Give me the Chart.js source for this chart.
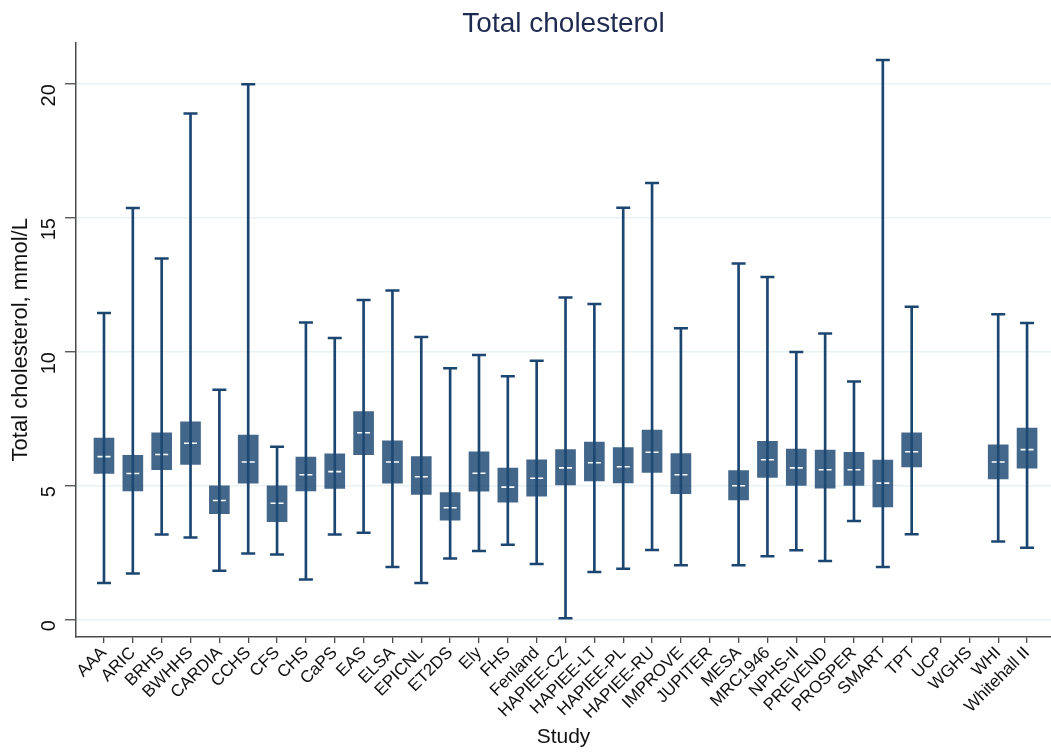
<!DOCTYPE html>
<html lang="en">
<head>
  <meta charset="UTF-8">
  <title>Total cholesterol</title>
  <script src="https://cdn.jsdelivr.net/npm/chart.js"></script>
  <style>
    html, body { margin: 0; padding: 0; background: #fff; overflow: hidden; }
    #wrap { width: 1051px; height: 753px; }
  </style>
</head>
<body>
  <div id="wrap"><canvas id="chart"></canvas></div>

  <script>
    // studies on the x axis
    const studies = ['AAA', 'ARIC', 'BRHS', 'BWHHS', 'CARDIA', 'CCHS', 'CFS', 'CHS', 'CaPS', 'EAS', 'ELSA',
      'EPICNL', 'ET2DS', 'Ely', 'FHS', 'Fenland', 'HAPIEE-CZ', 'HAPIEE-LT', 'HAPIEE-PL', 'HAPIEE-RU', 'IMPROVE',
      'JUPITER', 'MESA', 'MRC1946', 'NPHS-II', 'PREVEND', 'PROSPER', 'SMART', 'TPT', 'UCP', 'WGHS', 'WHI', 'Whitehall II'];

    // box plot values (mmol/L), null = no data
    const mins = [1.38, 1.74, 3.19, 3.08, 1.84, 2.48, 2.45, 1.51, 3.19, 3.26, 1.98,
      1.38, 2.30, 2.58, 2.81, 2.09, 0.07, 1.79, 1.91, 2.61, 2.04,
      null, 2.04, 2.38, 2.60, 2.20, 3.70, 1.98, 3.20, null, null, 2.93, 2.70];
    const q1 = [5.47, 4.82, 5.61, 5.81, 3.97, 5.11, 3.67, 4.82, 4.91, 6.17, 5.11,
      4.69, 3.73, 4.81, 4.40, 4.62, 5.04, 5.19, 5.12, 5.51, 4.72,
      null, 4.48, 5.32, 5.02, 4.92, 5.02, 4.22, 5.71, null, null, 5.27, 5.67];
    const medians = [6.10, 5.47, 6.18, 6.60, 4.46, 5.90, 4.36, 5.42, 5.54, 6.99, 5.90,
      5.35, 4.19, 5.48, 4.96, 5.29, 5.68, 5.87, 5.72, 6.26, 5.42,
      null, 5.01, 5.98, 5.68, 5.61, 5.61, 5.11, 6.28, null, null, 5.90, 6.36];
    const q3 = [6.79, 6.15, 6.99, 7.40, 5.01, 6.90, 5.01, 6.08, 6.20, 7.78, 6.69,
      6.10, 4.76, 6.28, 5.67, 5.98, 6.36, 6.64, 6.44, 7.09, 6.21,
      null, 5.58, 6.67, 6.38, 6.34, 6.26, 5.97, 6.99, null, null, 6.54, 7.16];
    const maxs = [11.46, 15.38, 13.49, 18.90, 8.59, 20.0, 6.47, 11.10, 10.53, 11.94, 12.30,
      10.56, 9.40, 9.89, 9.10, 9.68, 12.04, 11.79, 15.39, 16.31, 10.89,
      null, 13.31, 12.80, 10.0, 10.69, 8.90, 20.90, 11.69, null, null, 11.41, 11.09];

    const yTicks = [0, 5, 10, 15, 20];

    const navy = '#1c4672';
    const boxFill = 'rgba(31, 74, 117, 0.84)';
    const axisGrey = '#4a4a4a';

    // points for each series, x = study position (1..n)
    const pts = arr => arr.map((v, i) => v == null ? null : { x: i + 1, y: v }).filter(p => p);
    const ranges = (lo, hi) => lo.map((v, i) => v == null ? null : { x: i + 1, y: [v, hi[i]] }).filter(p => p);

    // white dashed median marks
    const medianPlugin = {
      id: 'medians',
      afterDatasetsDraw(chart) {
        const { ctx, scales: { x, y } } = chart;
        ctx.save();
        ctx.strokeStyle = '#ffffff';
        ctx.lineWidth = 1.6;
        ctx.setLineDash([5, 3]);
        medians.forEach((m, i) => {
          if (m == null) return;
          const px = x.getPixelForValue(i + 1);
          const py = y.getPixelForValue(m);
          ctx.beginPath();
          ctx.moveTo(px - 6.5, py);
          ctx.lineTo(px + 6.5, py);
          ctx.stroke();
        });
        ctx.restore();
      }
    };

    Chart.defaults.font.family = '"Liberation Sans", Arial, sans-serif';
    Chart.defaults.color = '#111';

    new Chart(document.getElementById('chart'), {
      type: 'bar',
      data: {
        datasets: [
          { type: 'bar', data: ranges(mins, maxs), backgroundColor: navy, barThickness: 2, grouped: false, order: 3 },
          { type: 'bar', data: ranges(q1, q3), backgroundColor: boxFill, barThickness: 20, grouped: false, order: 2 },
          { type: 'line', data: pts(maxs), showLine: false, pointStyle: 'line', pointRadius: 7, pointHoverRadius: 7,
            borderColor: navy, borderWidth: 2.5, order: 1 },
          { type: 'line', data: pts(mins), showLine: false, pointStyle: 'line', pointRadius: 7, pointHoverRadius: 7,
            borderColor: navy, borderWidth: 2.5, order: 1 }
        ]
      },
      options: {
        responsive: true,
        maintainAspectRatio: false,
        animation: false,
        layout: { autoPadding: false, padding: { left: 6, right: 0, top: 0, bottom: 3 } },
        plugins: {
          legend: { display: false },
          tooltip: { enabled: false },
          title: {
            display: true,
            text: 'Total cholesterol',
            fullSize: false,
            color: '#1e2a50',
            font: { size: 28, weight: 'normal' },
            padding: { top: 7, bottom: 2 }
          }
        },
        scales: {
          x: {
            type: 'linear',
            offset: false,
            min: 0.03,
            max: 33.83,
            afterBuildTicks: axis => { axis.ticks = studies.map((s, i) => ({ value: i + 1 })); },
            ticks: {
              autoSkip: false,
              minRotation: 45,
              maxRotation: 45,
              padding: 0,
              font: { size: 17 },
              color: '#111',
              callback: v => studies[v - 1] || ''
            },
            grid: { offset: false, drawOnChartArea: false, drawTicks: true, tickLength: 6, color: axisGrey, lineWidth: 1.3 },
            border: { display: true, color: axisGrey, width: 1.5 },
            title: { display: true, text: 'Study', font: { size: 21 }, color: '#111', padding: { top: 2, bottom: 0 } }
          },
          y: {
            min: -0.63,
            max: 21.55,
            afterBuildTicks: axis => { axis.ticks = yTicks.map(v => ({ value: v })); },
            afterFit: axis => { axis.width = 70; },
            ticks: {
              minRotation: 90,
              maxRotation: 90,
              padding: 16,
              font: { size: 20 },
              color: '#111'
            },
            grid: { color: '#e8f1f3', lineWidth: 1.5, drawTicks: true, tickLength: 11, tickColor: axisGrey, tickWidth: 1.3 },
            border: { display: true, color: axisGrey, width: 1.5 },
            title: { display: true, text: 'Total cholesterol, mmol/L', font: { size: 22 }, color: '#111', padding: { top: 2, bottom: 0 } }
          }
        }
      },
      plugins: [medianPlugin]
    });
  </script>
</body>
</html>
